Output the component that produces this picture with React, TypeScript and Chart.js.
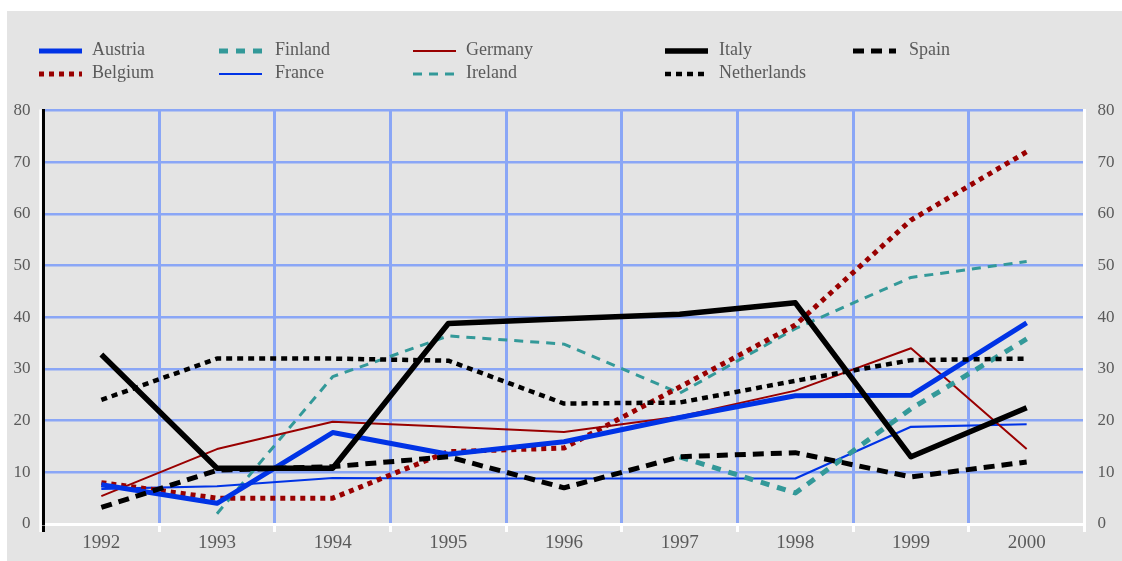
import React, { useEffect, useRef } from 'react';
import { Chart, registerables } from 'chart.js';

Chart.register(...registerables);

const years = ['1992', '1993', '1994', '1995', '1996', '1997', '1998', '1999', '2000'];

const austria = [7.6, 4, 17.7, 13.5, 15.9, 20.6, 24.8, 24.9, 38.9];
const belgium = [8, 5, 5, 14, 14.7, 26.5, 38.5, 58.8, 72];
const finland = [null, null, null, null, null, 13, 6, 22.3, 35.8];
const france = [6.8, 7.3, 8.9, 8.8, 8.8, 8.8, 8.8, 18.8, 19.3];
const germany = [5.4, 14.5, 19.8, 18.8, 17.8, 20.8, 25.8, 34, 14.5];
const ireland = [null, 2, 28.5, 36.4, 34.8, 25.3, 37.8, 47.7, 50.8];
const italy = [32.8, 10.8, 10.8, 38.8, 39.7, 40.6, 42.8, 13, 22.5];
const netherlands = [24, 32, 32, 31.6, 23.3, 23.5, 27.7, 31.7, 32];
const spain = [3.2, 10.4, 11.1, 13, 7, 13, 13.8, 9.1, 12];

const yMin = 0;
const yMax = 80;
const yStep = 10;

const legendRow1 = ['Austria', 'Finland', 'Germany', 'Italy', 'Spain'];
const legendRow2 = ['Belgium', 'France', 'Ireland', 'Netherlands'];

const BLUE = '#0033e6';
const RED = '#990000';
const TEAL = '#339999';
const BLACK = '#000000';
const GRID = '#8aa6f6';
const PANEL = '#e4e4e4';
const TEXT = '#5a5a5a';
const FONT = '"Liberation Serif", "Times New Roman", serif';

const series = [
  { label: 'Italy', data: italy, color: BLACK, width: 5.5, dash: [] as number[] },
  { label: 'Spain', data: spain, color: BLACK, width: 5, dash: [11, 7] },
  { label: 'Netherlands', data: netherlands, color: BLACK, width: 4.5, dash: [6, 5] },
  { label: 'Austria', data: austria, color: BLUE, width: 5, dash: [] as number[] },
  { label: 'Belgium', data: belgium, color: RED, width: 5, dash: [5, 5] },
  { label: 'Finland', data: finland, color: TEAL, width: 5, dash: [9, 8] },
  { label: 'Germany', data: germany, color: RED, width: 2, dash: [] as number[] },
  { label: 'France', data: france, color: BLUE, width: 2.2, dash: [] as number[] },
  { label: 'Ireland', data: ireland, color: TEAL, width: 3, dash: [9, 7] },
];

const legendColumns = [
  { line: 39, text: 92 },
  { line: 219, text: 275 },
  { line: 413, text: 466 },
  { line: 665, text: 719 },
  { line: 853, text: 909 },
];
const legendRowsY = [51, 74];

const panelPlugin = {
  id: 'panel',
  beforeDraw(chart: any) {
    const { ctx, width, height } = chart;
    ctx.save();
    ctx.fillStyle = '#ffffff';
    ctx.fillRect(0, 0, width, height);
    ctx.fillStyle = PANEL;
    ctx.fillRect(7, 11, width - 7, height - 11);
    ctx.restore();
  },
  afterDraw(chart: any) {
    const { ctx, chartArea } = chart;
    ctx.save();
    // white strip left of the black axis
    ctx.strokeStyle = '#ffffff';
    ctx.lineWidth = 2.5;
    ctx.beginPath();
    ctx.moveTo(chartArea.left - 3, chartArea.top - 1);
    ctx.lineTo(chartArea.left - 3, chartArea.bottom + 8);
    ctx.stroke();
    // legend
    const rows = [legendRow1, legendRow2];
    rows.forEach((row, r) => {
      row.forEach((name, c) => {
        const s = series.find((d) => d.label === name)!;
        const col = legendColumns[c];
        const y = legendRowsY[r];
        ctx.beginPath();
        ctx.setLineDash(s.dash);
        ctx.lineCap = 'butt';
        ctx.lineWidth = s.width;
        ctx.strokeStyle = s.color;
        ctx.moveTo(col.line, y);
        ctx.lineTo(col.line + 43, y);
        ctx.stroke();
        ctx.setLineDash([]);
        ctx.font = `18px ${FONT}`;
        ctx.fillStyle = TEXT;
        ctx.textAlign = 'left';
        ctx.textBaseline = 'middle';
        ctx.fillText(name, col.text, y - 1);
      });
    });
    ctx.restore();
  },
};

export default function App() {
  const canvasRef = useRef<HTMLCanvasElement | null>(null);

  useEffect(() => {
    const canvas = canvasRef.current;
    if (!canvas) return;
    const chart = new Chart(canvas, {
      type: 'line',
      data: {
        labels: years,
        datasets: series.map((s) => ({
          label: s.label,
          data: s.data,
          borderColor: s.color,
          backgroundColor: s.color,
          borderWidth: s.width,
          borderDash: s.dash,
          borderCapStyle: 'butt',
          borderJoinStyle: 'round',
          pointRadius: 0,
          pointHoverRadius: 0,
          tension: 0,
          fill: false,
          spanGaps: false,
        })) as any,
      },
      options: {
        responsive: false,
        animation: false,
        events: [],
        layout: { padding: { top: 110.5, left: 0, right: 0, bottom: 0 } },
        plugins: {
          legend: { display: false },
          tooltip: { enabled: false },
          title: { display: false },
        },
        scales: {
          x: {
            type: 'category',
            offset: true,
            grid: {
              offset: true,
              color: GRID,
              lineWidth: 3,
              drawTicks: true,
              tickLength: 8,
              tickWidth: 3,
              tickColor: (ctx: any) => (ctx.index === 0 ? '#000000' : '#ffffff'),
            },
            border: { display: true, color: '#ffffff', width: 3 },
            ticks: {
              color: TEXT,
              font: { family: FONT, size: 19 },
              padding: 0,
              maxRotation: 0,
              autoSkip: false,
            },
            afterFit: (scale: any) => {
              scale.height = 37;
            },
          },
          y: {
            position: 'left',
            min: yMin,
            max: yMax,
            grid: { color: GRID, lineWidth: 2.5, drawTicks: false },
            border: { display: true, color: '#000000', width: 3 },
            ticks: {
              stepSize: yStep,
              color: TEXT,
              font: { family: FONT, size: 17 },
              padding: 13,
            },
            afterFit: (scale: any) => {
              scale.width = 43.5;
            },
          },
          y2: {
            position: 'right',
            min: yMin,
            max: yMax,
            grid: { display: true, drawOnChartArea: false, drawTicks: false },
            border: { display: true, color: '#ffffff', width: 3 },
            ticks: {
              stepSize: yStep,
              color: TEXT,
              font: { family: FONT, size: 17 },
              padding: 13,
            },
            afterFit: (scale: any) => {
              scale.width = 37.5;
            },
          },
        },
      } as any,
      plugins: [panelPlugin],
    });
    return () => chart.destroy();
  }, []);

  return (
    <div style={{ position: 'absolute', left: 0, top: 0, width: 1122, height: 561, background: '#ffffff' }}>
      <canvas ref={canvasRef} width={1122} height={561} style={{ display: 'block' }} />
    </div>
  );
}
